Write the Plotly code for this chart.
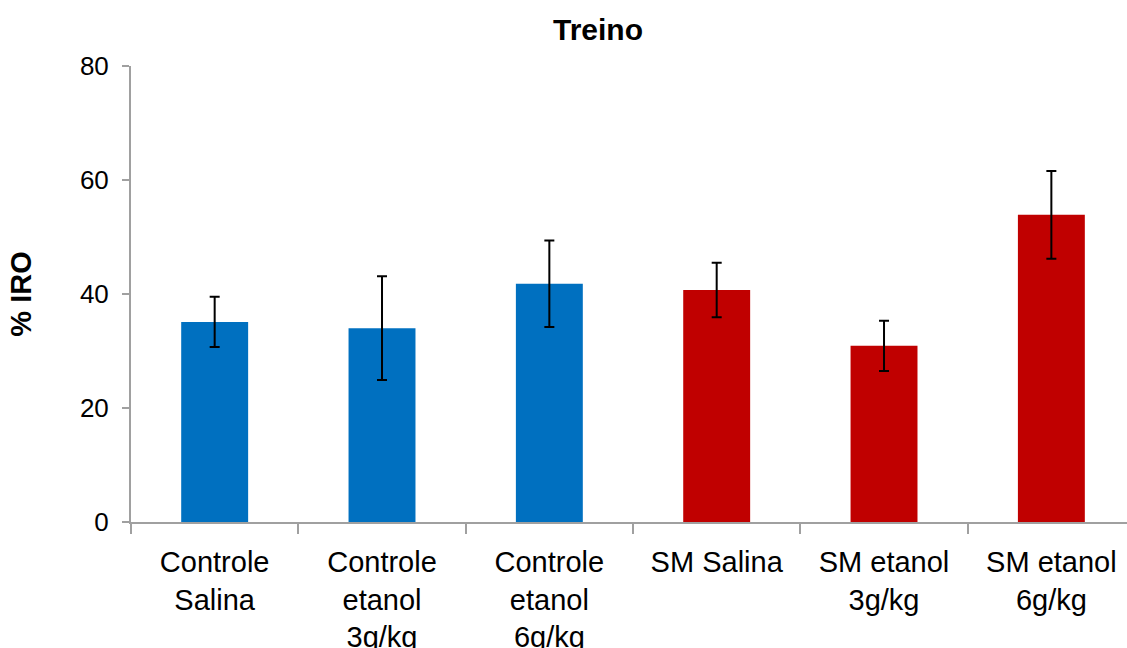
import plotly.graph_objects as go

categories = ["Controle<br>Salina", "Controle<br>etanol<br>3g/kg", "Controle<br>etanol<br>6g/kg",
              "SM Salina", "SM etanol<br>3g/kg", "SM etanol<br>6g/kg"]
values = [35.1, 34.0, 41.8, 40.7, 30.9, 53.9]
errors = [4.4, 9.1, 7.6, 4.8, 4.4, 7.7]
y_ticks = [0, 20, 40, 60, 80]

bar_colors = ["#0070C0"] * 3 + ["#C00000"] * 3

fig = go.Figure(go.Bar(
    x=categories, y=values,
    marker=dict(color=bar_colors, line=dict(width=0)),
    width=0.4,
    error_y=dict(type="data", array=errors, visible=True, color="#000000", thickness=2, width=5),
))

font_family = "Liberation Sans, Arial, sans-serif"
fig.update_layout(
    width=1127, height=648,
    margin=dict(l=131, r=0, t=66, b=126),
    paper_bgcolor="white", plot_bgcolor="white",
    showlegend=False,
    font=dict(family=font_family, color="#000000"),
    title=dict(text="<b>Treino</b>", x=598/1127, xref="container", xanchor="center",
               y=1 - 29/648, yref="container", yanchor="middle",
               font=dict(size=30, family=font_family, color="#000000")),
)
fig.update_xaxes(
    type="category", range=[-0.5, 5.452], automargin=False,
    showline=True, linecolor="#a0a0a0", linewidth=2,
    ticks="outside", tickson="boundaries", ticklen=10, tickcolor="#a0a0a0", tickwidth=1.5,
    tickfont=dict(size=29, family=font_family, color="#000000"),
    ticklabelstandoff=13,
    showgrid=False, zeroline=False,
)
fig.update_yaxes(
    range=[0, 80], tickvals=y_ticks, automargin=False,
    showline=True, linecolor="#a0a0a0", linewidth=2,
    ticks="outside", ticklen=7, tickcolor="#a0a0a0", tickwidth=1.5,
    tickfont=dict(size=26, family=font_family, color="#000000"),
    ticklabelstandoff=8,
    showgrid=False, zeroline=False,
    title=dict(text="<b>% IRO</b>", font=dict(size=29, family=font_family, color="#000000"), standoff=40),
)

fig.write_html("out.html")
